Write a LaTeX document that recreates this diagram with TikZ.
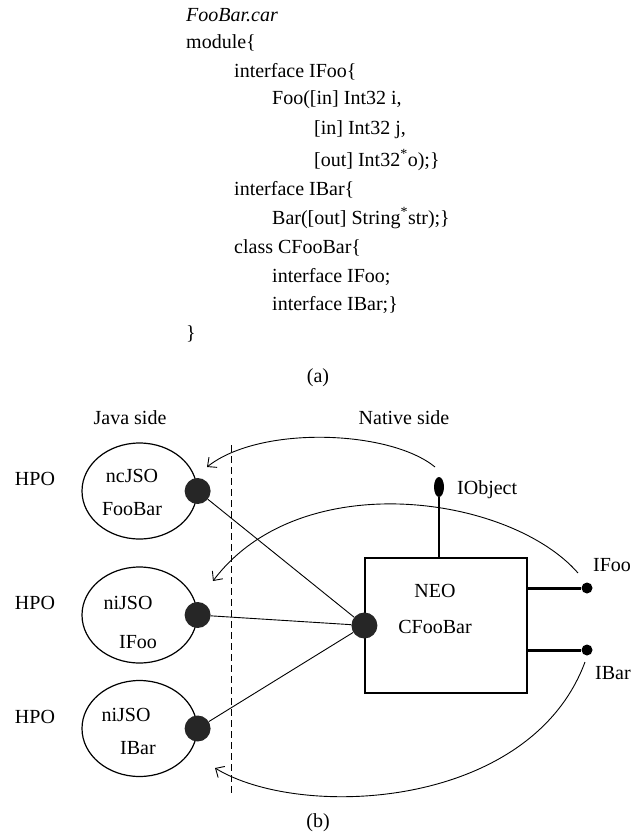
\documentclass[tikz,border=0pt]{standalone}
\usepackage{fontspec}
\setmainfont{Liberation Serif}
\usetikzlibrary{arrows.meta,positioning,shapes.geometric}
\definecolor{portgray}{RGB}{38,38,38}
\tikzset{
  lbl/.style={inner sep=0pt, font=\fontsize{20}{24}\selectfont},
  code/.style={lbl, anchor=west},
  jso/.style={draw, ellipse, line width=1.2pt, minimum width=115pt, minimum height=96pt, inner sep=0pt},
  port/.style={circle, fill=portgray, minimum size=26pt, inner sep=0pt},
  pinend/.style={circle, fill=black, minimum size=11pt, inner sep=0pt},
  wire/.style={line width=0.9pt},
  call/.style={line width=0.9pt, -{Straight Barb[length=7pt,width=13pt]}},
}

\begin{document}
\begin{tikzpicture}[x=1pt, y=-1pt]
  \useasboundingbox (0,0) rectangle (633,835);
  % (a) the car listing
  \node[code] (file)   at (186,15)  {\textit{FooBar.car}};
  \node[code] (module) at (186,43)  {module\{};
  \node[code] (ifoo)   at (234,72)  {interface IFoo\{};
  \node[code] (foo1)   at (272,100) {Foo([in] Int32 i,};
  \node[code] (foo2)   at (314,130) {[in] Int32 j,};
  \node[code] (foo3)   at (314,160) {[out] Int32\textsuperscript{*}o);\}};
  \node[code] (ibar)   at (234,190) {interface IBar\{};
  \node[code] (bar1)   at (272,218) {Bar([out] String\textsuperscript{*}str);\}};
  \node[code] (cls)    at (234,248) {class CFooBar\{};
  \node[code] (cls1)   at (272,277) {interface IFoo;};
  \node[code] (cls2)   at (272,305) {interface IBar;\}};
  \node[code] (close)  at (186,334) {\}};
  \node[lbl]  (capa)   at (318,378) {(a)};

  % (b) Java side / native side
  \node[lbl] (java)   at (130,418) {Java side};
  \node[lbl] (native) at (404,418) {Native side};
  \draw[wire, dash pattern=on 7pt off 4pt] (231,445) -- (231,795);

  \node[jso] (jso1) at (139.5,491) {};
  \node[jso] (jso2) at (139.5,615) {};
  \node[jso] (jso3) at (139.5,728.5) {};
  \node[lbl] at (132,476) {ncJSO};
  \node[lbl] at (132,509) {FooBar};
  \node[lbl] at (128,603) {niJSO};
  \node[lbl] at (138,642) {IFoo};
  \node[lbl] at (126,715) {niJSO};
  \node[lbl] at (138,748) {IBar};
  \node[lbl] (hpo1) at (35,479) {HPO};
  \node[lbl] (hpo2) at (35,603) {HPO};
  \node[lbl] (hpo3) at (35,717) {HPO};

  \node[draw, line width=1.2pt, minimum width=162pt, minimum height=135pt] (neo) at (446,625.5) {};
  \node[lbl] at (435,591) {NEO};
  \node[lbl] at (435,627) {CFooBar};

  \node[port] (p1) at (jso1.east) {};
  \node[port] (p2) at (jso2.east) {};
  \node[port] (p3) at (jso3.east) {};
  \node[port] (hub) at (neo.west) {};
  \draw[wire] (p1) -- (hub);
  \draw[wire] (p2) -- (hub);
  \draw[wire] (p3) -- (hub);

  % interfaces of the native object
  \node[ellipse, fill=black, minimum width=10pt, minimum height=20pt, inner sep=0pt] (iobj) at (439,487) {};
  \draw[line width=1.2pt] (iobj) -- (iobj |- neo.north);
  \node[code] at (457,490) {IObject};
  \node[pinend] (pfoo) at (587,588) {};
  \node[pinend] (pbar) at (587,650) {};
  \draw[line width=3pt] (neo.east |- pfoo) -- (pfoo);
  \draw[line width=3pt] (neo.east |- pbar) -- (pbar);
  \node[lbl] at (612,565) {IFoo};
  \node[lbl] at (613,673) {IBar};

  % back references
  \coordinate (s1) at (435,467);
  \coordinate (t1) at (207,467);
  \coordinate (s2) at (578,573);
  \coordinate (t2) at (213,581);
  \coordinate (s3) at (585,662);
  \coordinate (t3) at (215,768);
  \draw[call] (s1) .. controls (390,430) and (260,425) .. (t1);
  \draw[call] (s2) .. controls (510,495) and (300,465) .. (t2);
  \draw[call] (s3) .. controls (530,810) and (300,820) .. (t3);
  \node[lbl] (capb) at (318,823) {(b)};
\end{tikzpicture}
\end{document}
